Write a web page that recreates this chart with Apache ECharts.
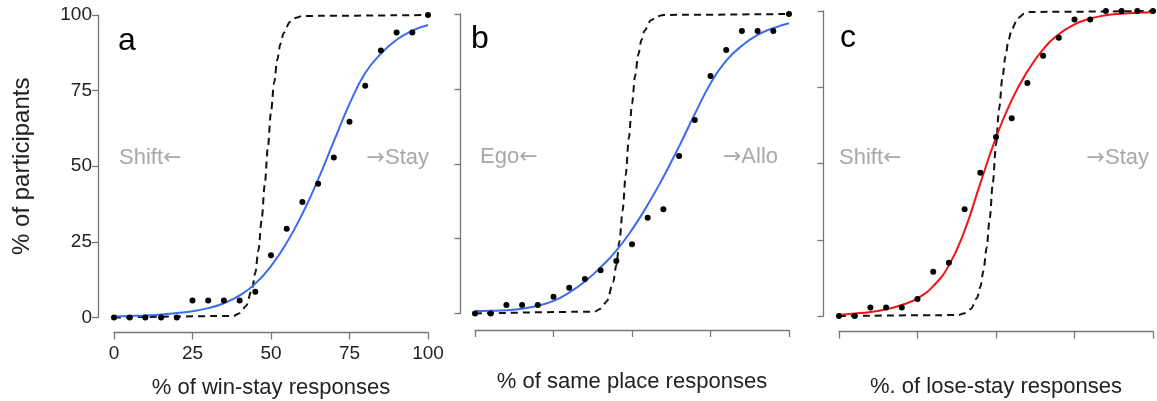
<!DOCTYPE html>
<html>
<head>
<meta charset="utf-8">
<script src="https://cdn.jsdelivr.net/npm/echarts@6/dist/echarts.min.js"></script>
<style>
  html, body { margin: 0; padding: 0; background: #fff; }
  #chart { width: 1157px; height: 401px; }
</style>
</head>
<body>
<div id="chart"></div>
<script>
// x positions of the observed points (% of responses)
var xs = [0,5,10,15,20,25,30,35,40,45,50,55,60,65,70,75,80,85,90,95,100];

// observed cumulative % of participants
var dotsA = [0,0,0,0,0,5.6,5.6,5.6,5.6,8.5,20.6,29.3,38.2,44.2,52.9,64.7,76.6,88.3,94.2,94.2,100];
var dotsB = [0,0,2.8,2.8,2.8,5.6,8.6,11.5,14.4,17.5,23.1,32,34.8,52.6,64.6,79.3,88,94.3,94.3,94.3,100];
var dotsC = [0,0,2.8,2.8,2.8,5.6,14.5,17.5,35,47,58.7,64.8,76.4,85.3,91.2,97.2,97.2,100,100,100,100];

// fitted curves read at the same x positions
var fitA = [0.3,0.5,0.7,1.0,1.5,2.1,3.1,4.7,7.3,11.2,17,24.7,34.3,45.6,58.2,70.6,80.8,87.2,91.8,94.8,96.7];
var fitB = [0.8,0.9,1.1,1.6,2.6,4.2,7,10.7,15.4,21,28,36.3,45.6,55.8,66.6,76.8,84.4,89.4,93,95.3,96.9];
var fitC = [0.4,0.8,1.3,2.2,3.6,5.8,9.8,16.6,28,43.5,58.5,70.8,80.2,87.4,92.4,95.6,97.5,98.6,99.1,99.4,99.6];

// dashed reference curves (steep step near 50%)
var dashXA = [0,38,40,42,44,45,46,47,48,49,50,51,52,53,54,56,58,60,100];
var dashYA = [0,0.5,1.4,3.7,9.5,14.8,22.3,32,43.8,56.2,68,77.7,85.2,90.5,94,97.7,99.1,99.7,100];
var dashXB = [0,38,40,42,44,45,46,47,48,49,50,51,52,53,54,56,58,60,100];
var dashYB = [0,0.6,1.6,4.1,10.4,16.1,24,34.3,46.3,58.7,70,79.4,86.4,91.3,94.5,97.9,99.2,99.7,100];
var dashXC = [0,38,40,42,44,45,46,47,48,49,50,51,52,53,54,55,57,59,61,100];
var dashYC = [0,0.3,0.9,2.3,6,9.5,14.8,22.3,32,43.8,56.2,68,77.7,85.2,90.5,94,97.7,99.1,99.7,100];

var axisTitles = ['% of win-stay responses', '% of same place responses', '%. of lose-stay responses'];
var yTitle = '% of participants';
var panelLetters = ['a', 'b', 'c'];
var leftWords = ['Shift', 'Ego', 'Shift'];
var rightWords = ['Stay', 'Allo', 'Stay'];

function pairs(x, y) {
  var out = [];
  for (var i = 0; i < x.length; i++) out.push([x[i], y[i]]);
  return out;
}

var FONT = '"Liberation Sans", Arial, sans-serif';
var AXIS_COLOR = '#777';
var GREY = '#a8a8a8';

var grids = [
  {left: 114, top: 15, width: 314, height: 302.5, outerBoundsMode: 'none'},
  {left: 475, top: 14, width: 314, height: 299.5, outerBoundsMode: 'none'},
  {left: 839, top: 11, width: 314, height: 305, outerBoundsMode: 'none'}
];
var xOffsets = [15, 16.5, 15.5];
var yOffsets = [16, 14.5, 15.5];
var nameGaps = [44, 41, 44];

var xAxes = [], yAxes = [];
for (var i = 0; i < 3; i++) {
  xAxes.push({
    type: 'value', gridIndex: i, min: 0, max: 100, interval: 25,
    offset: xOffsets[i],
    axisLine: {show: true, onZero: false, lineStyle: {color: AXIS_COLOR, width: 1.3}},
    axisTick: {show: true, length: 7, lineStyle: {color: AXIS_COLOR, width: 1.3}},
    axisLabel: {show: i === 0, fontSize: 19, color: '#222', fontFamily: FONT, margin: 12},
    splitLine: {show: false},
    name: axisTitles[i], nameLocation: 'middle', nameGap: nameGaps[i],
    nameTextStyle: {fontSize: 22, color: '#222', fontFamily: FONT}
  });
  yAxes.push({
    type: 'value', gridIndex: i, min: 0, max: 100, interval: 25,
    offset: yOffsets[i],
    axisLine: {show: true, onZero: false, lineStyle: {color: AXIS_COLOR, width: 1.3}},
    axisTick: {show: true, length: 6, lineStyle: {color: AXIS_COLOR, width: 1.3}},
    axisLabel: {show: i === 0, fontSize: 19, color: '#222', fontFamily: FONT, margin: 6},
    splitLine: {show: false},
    name: i === 0 ? yTitle : '', nameLocation: 'middle', nameGap: 64, nameRotate: 90,
    nameTextStyle: {fontSize: 24, color: '#222', fontFamily: FONT}
  });
}

var dots = [dotsA, dotsB, dotsC];
var fits = [fitA, fitB, fitC];
var fitColors = ['#3b6cf0', '#3b6cf0', '#f01414'];
var dashes = [pairs(dashXA, dashYA), pairs(dashXB, dashYB), pairs(dashXC, dashYC)];

var series = [];
for (var j = 0; j < 3; j++) {
  series.push({
    type: 'line', xAxisIndex: j, yAxisIndex: j, data: dashes[j],
    showSymbol: false, smooth: 0.3, smoothMonotone: 'x', clip: false,
    lineStyle: {color: '#111', width: 2, type: [7, 5]}, z: 2, silent: true
  });
  series.push({
    type: 'line', xAxisIndex: j, yAxisIndex: j, data: pairs(xs, fits[j]),
    showSymbol: false, smooth: 0.5, clip: false,
    lineStyle: {color: fitColors[j], width: 2}, z: 3, silent: true
  });
  series.push({
    type: 'scatter', xAxisIndex: j, yAxisIndex: j, data: pairs(xs, dots[j]),
    symbolSize: 6, itemStyle: {color: '#000', opacity: 1}, clip: false, z: 4, silent: true
  });
}

var richArrow = {
  w: {font: '22px ' + FONT, fill: GREY},
  arr: {font: '22px "DejaVu Sans", sans-serif', fill: GREY}
};
var graphics = [];
var letterPos = [[118, 41], [471, 39], [840, 38]];
var leftPos = [[119, 158], [480, 157], [839, 158]];
var rightPos = [[429, 158], [778, 157], [1149, 158]];
for (var k = 0; k < 3; k++) {
  graphics.push({type: 'text', x: letterPos[k][0], y: letterPos[k][1],
    style: {text: panelLetters[k], fill: '#000', font: '32px ' + FONT, verticalAlign: 'middle'}});
  graphics.push({type: 'text', x: leftPos[k][0], y: leftPos[k][1],
    style: {text: '{w|' + leftWords[k] + '}{arr|\u2190}', rich: richArrow, align: 'left', verticalAlign: 'middle'}});
  graphics.push({type: 'text', x: rightPos[k][0], y: rightPos[k][1],
    style: {text: '{arr|\u2192}{w|' + rightWords[k] + '}', rich: richArrow, align: 'right', verticalAlign: 'middle'}});
}

var myChart = echarts.init(document.getElementById('chart'));
var option = {
  animation: false,
  backgroundColor: '#fff',
  grid: grids,
  xAxis: xAxes,
  yAxis: yAxes,
  series: series,
  graphic: graphics
};
myChart.setOption(option);
</script>
</body>
</html>
